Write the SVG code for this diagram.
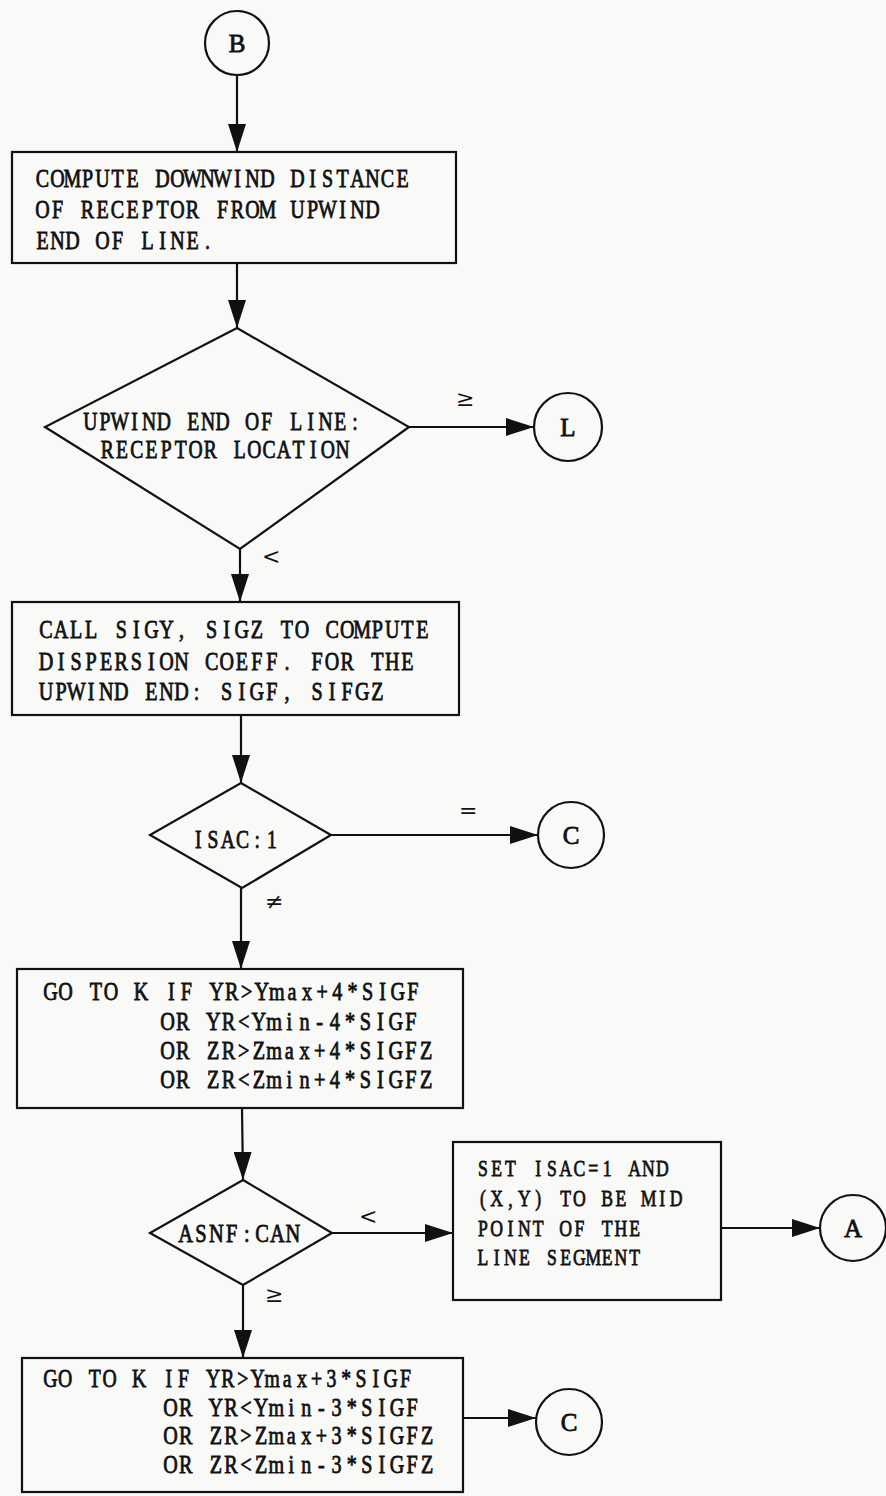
<svg xmlns="http://www.w3.org/2000/svg" width="886" height="1496" viewBox="0 0 886 1496">
<style>
.shape{fill:none;stroke:#111;stroke-width:2.2}
.t{font-family:"Liberation Serif","Times New Roman",serif;font-size:25px;fill:#111;stroke:#111;stroke-width:0.8;text-anchor:middle}
.s{font-size:24px}
.lbl{font-family:"DejaVu Serif","Liberation Serif",serif;font-size:22px;fill:#111}
.c{stroke:#111;stroke-width:2.2;fill:none;marker-end:url(#ah)}
</style>
<defs>
<marker id="ah" markerUnits="userSpaceOnUse" markerWidth="28" markerHeight="18" refX="28" refY="9" orient="auto">
<path d="M0,0 L28,9 L0,18 z" fill="#111"/>
</marker>
</defs>
<rect x="0" y="0" width="886" height="1496" fill="#f9f9f7"/>
<g id="connectors">
<line class="c" x1="237" y1="76" x2="237" y2="152"/>
<line class="c" x1="237" y1="263" x2="237" y2="328"/>
<line class="c" x1="409" y1="427" x2="534" y2="427"/>
<line class="c" x1="240" y1="549" x2="240" y2="602"/>
<line class="c" x1="241" y1="715" x2="241" y2="783"/>
<line class="c" x1="331" y1="835" x2="538" y2="835"/>
<line class="c" x1="241" y1="888" x2="241" y2="969"/>
<line class="c" x1="242" y1="1108" x2="243" y2="1180"/>
<line class="c" x1="332" y1="1233" x2="453" y2="1233"/>
<line class="c" x1="721" y1="1228" x2="820" y2="1228"/>
<line class="c" x1="243" y1="1285" x2="243" y2="1358"/>
<line class="c" x1="463" y1="1418" x2="536" y2="1418"/>
<text class="lbl" x="456" y="406">≥</text>
<text class="lbl" x="262" y="564">&lt;</text>
<text class="lbl" x="459" y="818">=</text>
<text class="lbl" x="265" y="909">≠</text>
<text class="lbl" x="359" y="1224">&lt;</text>
<text class="lbl" x="265" y="1302">≥</text>
</g>
<g id="nodeB">
<circle class="shape" cx="237" cy="43" r="32"/>
<text class="t" x="237" y="52">B</text>
</g>
<g id="box1">
<rect class="shape" x="12" y="152" width="444" height="111"/>
<text class="t" transform="translate(35,187) scale(0.8,1)" y="0" x="9.38 28.13 46.88 65.63 84.38 103.13 121.88 140.63 159.38 178.13 196.88 215.63 234.38 253.13 271.88 290.63 309.38 328.13 346.88 365.63 384.38 403.13 421.88 440.63 459.38 478.13 496.88">COMPUTE DOWNWIND DISTANCE</text>
<text class="t" transform="translate(35,218) scale(0.8,1)" y="0" x="9.38 28.13 46.88 65.63 84.38 103.13 121.88 140.63 159.38 178.13 196.88 215.63 234.38 253.13 271.88 290.63 309.38 328.13 346.88 365.63 384.38 403.13 421.88 440.63 459.38 478.13 496.88">OF RECEPTOR FROM UPWIND</text>
<text class="t" transform="translate(35,249) scale(0.8,1)" y="0" x="9.38 28.13 46.88 65.63 84.38 103.13 121.88 140.63 159.38 178.13 196.88 215.63 234.38 253.13 271.88 290.63 309.38 328.13 346.88 365.63 384.38 403.13 421.88 440.63 459.38 478.13 496.88">END OF LINE.</text>
</g>
<g id="dec1">
<polygon class="shape" points="237,328 409,427 240,549 45,427"/>
<text class="t" transform="translate(83,430) scale(0.784,1)" y="0" x="9.38 28.13 46.88 65.63 84.38 103.13 121.88 140.63 159.38 178.13 196.88 215.63 234.38 253.13 271.88 290.63 309.38 328.13 346.88 365.63 384.38 403.13 421.88 440.63 459.38 478.13 496.88">UPWIND END OF LINE:</text>
<text class="t" transform="translate(100,458) scale(0.784,1)" y="0" x="9.38 28.13 46.88 65.63 84.38 103.13 121.88 140.63 159.38 178.13 196.88 215.63 234.38 253.13 271.88 290.63 309.38 328.13 346.88 365.63 384.38 403.13 421.88 440.63 459.38 478.13 496.88">RECEPTOR LOCATION</text>
</g>
<g id="nodeL">
<circle class="shape" cx="568" cy="427" r="34"/>
<text class="t" x="568" y="436">L</text>
</g>
<g id="box2">
<rect class="shape" x="12" y="602" width="447" height="113"/>
<text class="t" transform="translate(38.5,638) scale(0.803,1)" y="0" x="9.38 28.13 46.88 65.63 84.38 103.13 121.88 140.63 159.38 178.13 196.88 215.63 234.38 253.13 271.88 290.63 309.38 328.13 346.88 365.63 384.38 403.13 421.88 440.63 459.38 478.13 496.88">CALL SIGY, SIGZ TO COMPUTE</text>
<text class="t" transform="translate(38.5,670) scale(0.803,1)" y="0" x="9.38 28.13 46.88 65.63 84.38 103.13 121.88 140.63 159.38 178.13 196.88 215.63 234.38 253.13 271.88 290.63 309.38 328.13 346.88 365.63 384.38 403.13 421.88 440.63 459.38 478.13 496.88">DISPERSION COEFF. FOR THE</text>
<text class="t" transform="translate(38.5,700) scale(0.803,1)" y="0" x="9.38 28.13 46.88 65.63 84.38 103.13 121.88 140.63 159.38 178.13 196.88 215.63 234.38 253.13 271.88 290.63 309.38 328.13 346.88 365.63 384.38 403.13 421.88 440.63 459.38 478.13 496.88">UPWIND END: SIGF, SIFGZ</text>
</g>
<g id="dec2">
<polygon class="shape" points="241,783 331,835 242,888 150,835"/>
<text class="t" transform="translate(191,848) scale(0.784,1)" y="0" x="9.38 28.13 46.88 65.63 84.38 103.13 121.88 140.63 159.38">ISAC:1</text>
</g>
<g id="nodeC1">
<circle class="shape" cx="571" cy="835" r="33"/>
<text class="t" x="571" y="844">C</text>
</g>
<g id="box3">
<rect class="shape" x="17" y="969" width="446" height="139"/>
<text class="t" transform="translate(43,1000) scale(0.805,1)" y="0" x="9.38 28.13 46.88 65.63 84.38 103.13 121.88 140.63 159.38 178.13 196.88 215.63 234.38 253.13 271.88 290.63 309.38 328.13 346.88 365.63 384.38 403.13 421.88 440.63 459.38 478.13 496.88">GO TO K IF YR&gt;Ymax+4*SIGF</text>
<text class="t" transform="translate(160,1030) scale(0.811,1)" y="0" x="9.38 28.13 46.88 65.63 84.38 103.13 121.88 140.63 159.38 178.13 196.88 215.63 234.38 253.13 271.88 290.63 309.38 328.13 346.88 365.63 384.38 403.13 421.88 440.63 459.38 478.13 496.88">OR YR&lt;Ymin-4*SIGF</text>
<text class="t" transform="translate(160,1059) scale(0.811,1)" y="0" x="9.38 28.13 46.88 65.63 84.38 103.13 121.88 140.63 159.38 178.13 196.88 215.63 234.38 253.13 271.88 290.63 309.38 328.13 346.88 365.63 384.38 403.13 421.88 440.63 459.38 478.13 496.88">OR ZR&gt;Zmax+4*SIGFZ</text>
<text class="t" transform="translate(160,1088) scale(0.811,1)" y="0" x="9.38 28.13 46.88 65.63 84.38 103.13 121.88 140.63 159.38 178.13 196.88 215.63 234.38 253.13 271.88 290.63 309.38 328.13 346.88 365.63 384.38 403.13 421.88 440.63 459.38 478.13 496.88">OR ZR&lt;Zmin+4*SIGFZ</text>
</g>
<g id="dec3">
<polygon class="shape" points="243,1180 332,1233 243,1285 150,1233"/>
<text class="t" transform="translate(178,1242) scale(0.816,1)" y="0" x="9.38 28.13 46.88 65.63 84.38 103.13 121.88 140.63 159.38">ASNF:CAN</text>
</g>
<g id="box4">
<rect class="shape" x="453" y="1142" width="268" height="158"/>
<text class="t s" transform="translate(476,1176) scale(0.736,1)" y="0" x="9.38 28.13 46.88 65.63 84.38 103.13 121.88 140.63 159.38 178.13 196.88 215.63 234.38 253.13 271.88 290.63 309.38">SET ISAC=1 AND</text>
<text class="t s" transform="translate(476,1206) scale(0.736,1)" y="0" x="9.38 28.13 46.88 65.63 84.38 103.13 121.88 140.63 159.38 178.13 196.88 215.63 234.38 253.13 271.88 290.63 309.38">(X,Y) TO BE MID</text>
<text class="t s" transform="translate(476,1236) scale(0.736,1)" y="0" x="9.38 28.13 46.88 65.63 84.38 103.13 121.88 140.63 159.38 178.13 196.88 215.63 234.38 253.13 271.88 290.63 309.38">POINT OF THE</text>
<text class="t s" transform="translate(476,1265) scale(0.736,1)" y="0" x="9.38 28.13 46.88 65.63 84.38 103.13 121.88 140.63 159.38 178.13 196.88 215.63 234.38 253.13 271.88 290.63 309.38">LINE SEGMENT</text>
</g>
<g id="nodeA">
<circle class="shape" cx="853" cy="1228" r="33"/>
<text class="t" x="853" y="1237">A</text>
</g>
<g id="box5">
<rect class="shape" x="22" y="1358" width="441" height="134"/>
<text class="t" transform="translate(43,1387) scale(0.789,1)" y="0" x="9.38 28.13 46.88 65.63 84.38 103.13 121.88 140.63 159.38 178.13 196.88 215.63 234.38 253.13 271.88 290.63 309.38 328.13 346.88 365.63 384.38 403.13 421.88 440.63 459.38 478.13 496.88">GO TO K IF YR&gt;Ymax+3*SIGF</text>
<text class="t" transform="translate(163,1416) scale(0.805,1)" y="0" x="9.38 28.13 46.88 65.63 84.38 103.13 121.88 140.63 159.38 178.13 196.88 215.63 234.38 253.13 271.88 290.63 309.38 328.13 346.88 365.63 384.38 403.13 421.88 440.63 459.38 478.13 496.88">OR YR&lt;Ymin-3*SIGF</text>
<text class="t" transform="translate(163,1444) scale(0.805,1)" y="0" x="9.38 28.13 46.88 65.63 84.38 103.13 121.88 140.63 159.38 178.13 196.88 215.63 234.38 253.13 271.88 290.63 309.38 328.13 346.88 365.63 384.38 403.13 421.88 440.63 459.38 478.13 496.88">OR ZR&gt;Zmax+3*SIGFZ</text>
<text class="t" transform="translate(163,1473) scale(0.805,1)" y="0" x="9.38 28.13 46.88 65.63 84.38 103.13 121.88 140.63 159.38 178.13 196.88 215.63 234.38 253.13 271.88 290.63 309.38 328.13 346.88 365.63 384.38 403.13 421.88 440.63 459.38 478.13 496.88">OR ZR&lt;Zmin-3*SIGFZ</text>
</g>
<g id="nodeC2">
<circle class="shape" cx="569" cy="1422" r="33"/>
<text class="t" x="569" y="1431">C</text>
</g>
</svg>
